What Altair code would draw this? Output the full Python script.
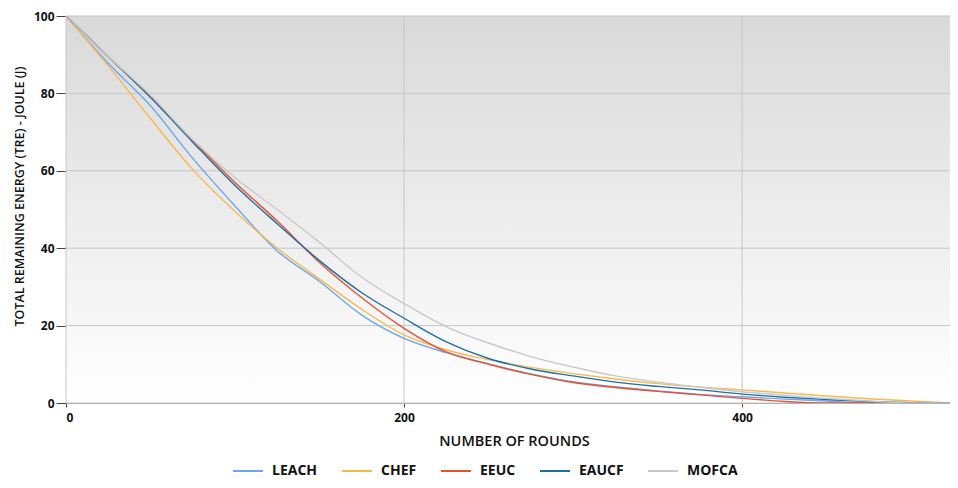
import altair as alt
import pandas as pd

rounds = [0, 25, 50, 75, 100, 125, 150, 175, 200, 225, 250, 275, 300, 325, 350, 375, 400, 425, 450, 475, 500, 525]
leach = [100, 87.8, 76.8, 63.2, 50.9, 39.3, 31.4, 22.7, 16.7, 13.0, 10.1, 7.5, 5.5, 4.2, 3.1, 2.2, 1.6, 1.0, 0.5, 0, 0, 0]
chef = [100, 87.1, 73.5, 60.3, 49.5, 40.0, 32.0, 24.2, 17.6, 13.7, 11.2, 9.2, 7.6, 6.2, 5.0, 4.1, 3.4, 2.6, 1.8, 1.1, 0.5, 0]
eeuc = [100, 89.5, 79.0, 67.9, 57.0, 47.0, 36.3, 27.2, 19.3, 13.2, 10.0, 7.4, 5.3, 4.0, 3.0, 2.1, 1.2, 0.4, 0, 0, 0, 0]
eaucf = [100, 89.5, 79.0, 67.4, 56.2, 46.3, 36.8, 28.5, 21.9, 15.8, 11.5, 8.8, 7.0, 5.4, 4.3, 3.4, 2.3, 1.5, 0.9, 0.4, 0.1, 0]
mofca = [100, 89.5, 79.5, 68.0, 58.2, 50.0, 41.5, 32.5, 25.7, 19.7, 15.5, 12.0, 9.3, 7.0, 5.4, 4.1, 2.9, 2.0, 1.2, 0.5, 0, 0]

series_names = ["LEACH", "CHEF", "EEUC", "EAUCF", "MOFCA"]
series_vals = [leach, chef, eeuc, eaucf, mofca]
series_colors = ["#6aa8f0", "#f8b84e", "#e8512f", "#1d6fa5", "#c9c9c9"]

x_ticks = [0, 200, 400]
y_ticks = [0, 20, 40, 60, 80, 100]

rows = []
for name, vals in zip(series_names, series_vals):
    for r, v in zip(rounds, vals):
        rows.append({"round": r, "energy": v, "series": name, "order": series_names.index(name)})
df = pd.DataFrame(rows)

FONT = "Open Sans"
W, H = 884, 387
XT = "NUMBER OF ROUNDS"
YT = "TOTAL REMAINING ENERGY (TRE) - JOULE (J)"

xscale = alt.Scale(domain=[0, 523], nice=False)
yscale = alt.Scale(domain=[0, 100], nice=False)
xaxis = alt.Axis(values=x_ticks, grid=False, tickSize=4, labelPadding=5,
                 titlePadding=11, labelFontSize=12, labelFontWeight="bold",
                 titleFontSize=14.5, titleFontWeight=600, titleX=448,
                 domainColor="#a0a0a0", tickColor="#444444")
yaxis = alt.Axis(values=y_ticks, grid=False, tickSize=10, labelPadding=2,
                 titlePadding=7, labelFontSize=12, labelFontWeight="bold",
                 titleFontSize=12.5, titleFontWeight=600, titleY=180,
                 domainColor="#808080", tickColor="#444444")

bg = alt.Chart(pd.DataFrame({"a": [0]})).mark_rect(
    color=alt.LinearGradient(gradient="linear", x1=0, x2=0, y1=0, y2=1,
                             stops=[alt.GradientStop(offset=0, color="#d9d9d9"),
                                    alt.GradientStop(offset=1, color="#ffffff")])
).encode(x=alt.value(0), x2=alt.value(W), y=alt.value(0), y2=alt.value(H))

ygrid = alt.Chart(pd.DataFrame({"v": y_ticks})).mark_rule(color="#c6c6c6", strokeWidth=1).encode(
    y=alt.Y("v:Q", scale=yscale, title=YT, axis=yaxis))
xgrid = alt.Chart(pd.DataFrame({"v": x_ticks})).mark_rule(color="#c6c6c6", strokeWidth=1).encode(
    x=alt.X("v:Q", scale=xscale, title=XT, axis=xaxis))

lines = alt.Chart(df).mark_line(strokeWidth=1.4, interpolate="monotone", clip=True).encode(
    x=alt.X("round:Q", title=XT, scale=xscale, axis=xaxis),
    y=alt.Y("energy:Q", title=YT, scale=yscale, axis=yaxis),
    color=alt.Color("series:N", sort=series_names,
                    scale=alt.Scale(domain=series_names, range=series_colors),
                    legend=alt.Legend(title=None, orient="none", legendX=166, legendY=439,
                                      direction="horizontal", columns=5,
                                      symbolType="stroke", symbolSize=900,
                                      symbolStrokeWidth=2, labelFontSize=14,
                                      labelFontWeight="bold", labelOffset=8,
                                      columnPadding=20, labelColor="#111111")),
    order=alt.Order("order:Q"),
)

chart = alt.layer(bg, ygrid, xgrid, lines).properties(
    width=W, height=H,
    autosize=alt.AutoSizeParams(type="none"),
    padding={"left": 58, "top": 8, "right": 0, "bottom": 76},
).configure_view(
    stroke=None,
).configure_axis(
    labelFont=FONT, titleFont=FONT,
    labelColor="#111111", titleColor="#111111",
).configure_legend(
    labelFont=FONT,
)

chart.save("out.html", embed_options={"renderer": "svg", "actions": False})
